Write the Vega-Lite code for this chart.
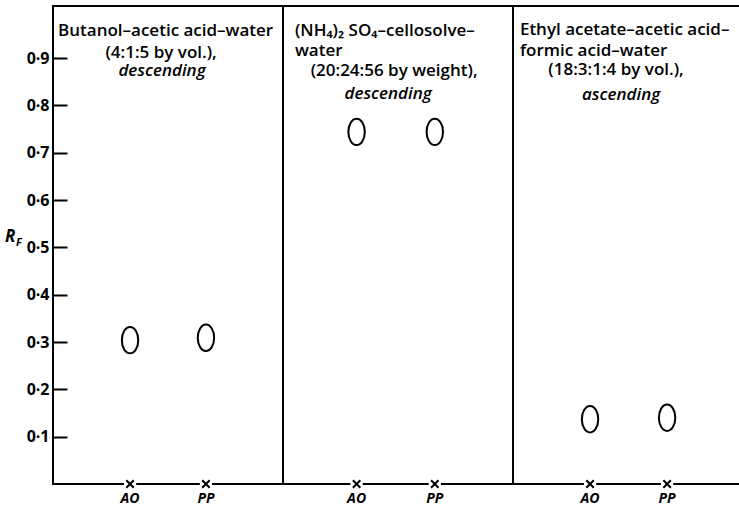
{
  "$schema": "https://vega.github.io/schema/vega-lite/v6.json",
  "width": 690,
  "height": 478,
  "autosize": {"type": "none"},
  "padding": {"left": 53, "top": 6, "right": 0, "bottom": 23},
  "background": "white",
  "config": {
    "view": {"stroke": "black", "strokeWidth": 2},
    "font": "Open Sans",
    "text": {"font": "Open Sans", "color": "black"}
  },
  "datasets": {
    "spots": [
      {"system": "Butanol-acetic acid-water", "sample": "AO", "pos": 0.335, "rf": 0.304},
      {"system": "Butanol-acetic acid-water", "sample": "PP", "pos": 0.665, "rf": 0.309},
      {"system": "(NH4)2SO4-cellosolve-water", "sample": "AO", "pos": 1.32, "rf": 0.744},
      {"system": "(NH4)2SO4-cellosolve-water", "sample": "PP", "pos": 1.66, "rf": 0.744},
      {"system": "Ethyl acetate-acetic acid-formic acid-water", "sample": "AO", "pos": 2.335, "rf": 0.137},
      {"system": "Ethyl acetate-acetic acid-formic acid-water", "sample": "PP", "pos": 2.67, "rf": 0.14}
    ],
    "dividers": [{"edge": 1}, {"edge": 2}],
    "titles_left": [
      {"t": "Butanol–acetic acid–water", "x": 0.022, "y": 0.947},
      {"t": "(NH₄)₂ SO₄–cellosolve–", "x": 1.052, "y": 0.947},
      {"t": "water", "x": 1.052, "y": 0.905},
      {"t": "Ethyl acetate–acetic acid–", "x": 2.03, "y": 0.949},
      {"t": "formic acid–water", "x": 2.03, "y": 0.905}
    ],
    "titles_mid": [
      {"t": "(4:1:5 by vol.),", "x": 0.47, "y": 0.9},
      {"t": "(20:24:56 by weight),", "x": 1.483, "y": 0.862},
      {"t": "(18:3:1:4 by vol.),", "x": 2.448, "y": 0.864}
    ],
    "titles_center": [
      {"t": "descending", "x": 0.474, "y": 0.862},
      {"t": "descending", "x": 1.457, "y": 0.8135},
      {"t": "ascending", "x": 2.47, "y": 0.811}
    ]
  },
  "layer": [
    {
      "data": {"name": "dividers"},
      "mark": {"type": "rule", "color": "black", "strokeWidth": 2},
      "encoding": {
        "x": {"field": "edge", "type": "quantitative", "scale": {"domain": [0, 3], "nice": false, "zero": false}, "axis": null}
      }
    },
    {
      "data": {"name": "spots"},
      "mark": {"type": "point", "shape": "M-0.62,0A0.62,1 0 1,1 0.62,0A0.62,1 0 1,1 -0.62,0Z", "filled": false, "stroke": "black", "strokeWidth": 2, "size": 700, "opacity": 1},
      "encoding": {
        "x": {"field": "pos", "type": "quantitative", "scale": {"domain": [0, 3], "nice": false, "zero": false}, "axis": null},
        "y": {
          "field": "rf", "type": "quantitative",
          "scale": {"domain": [0, 1.01], "nice": false, "zero": true},
          "axis": {
            "values": [0.1, 0.2, 0.3, 0.4, 0.5, 0.6, 0.7, 0.8, 0.9],
            "labelExpr": "replace(format(datum.value, '.1f'), '.', '·')",
            "domain": false, "grid": false,
            "tickSize": -14, "tickWidth": 2, "tickColor": "black",
            "labelPadding": 18, "labelFont": "Open Sans", "labelFontSize": 16, "labelFontWeight": "bold", "labelColor": "black",
            "title": null
          }
        }
      }
    },
    {
      "data": {"name": "spots"},
      "mark": {"type": "point", "shape": "square", "filled": true, "fill": "white", "strokeWidth": 0, "size": 150, "opacity": 1},
      "encoding": {
        "x": {"field": "pos", "type": "quantitative", "scale": {"domain": [0, 3], "nice": false, "zero": false}, "axis": null},
        "y": {"datum": 0, "type": "quantitative"}
      }
    },
    {
      "data": {"name": "spots"},
      "mark": {"type": "point", "shape": "M-1,-1L1,1M-1,1L1,-1", "filled": false, "stroke": "black", "strokeWidth": 2, "size": 56, "opacity": 1},
      "encoding": {
        "x": {"field": "pos", "type": "quantitative", "scale": {"domain": [0, 3], "nice": false, "zero": false}, "axis": null},
        "y": {"datum": 0, "type": "quantitative"}
      }
    },
    {
      "data": {"name": "spots"},
      "mark": {"type": "text", "baseline": "alphabetic", "align": "center", "dy": 19, "fontStyle": "italic", "fontWeight": "bold", "fontSize": 14},
      "encoding": {
        "x": {"field": "pos", "type": "quantitative", "scale": {"domain": [0, 3], "nice": false, "zero": false}, "axis": null},
        "y": {"datum": 0, "type": "quantitative"},
        "text": {"field": "sample"}
      }
    },
    {
      "data": {"name": "titles_left"},
      "mark": {"type": "text", "align": "left", "baseline": "alphabetic", "fontSize": 17, "fontWeight": 600},
      "encoding": {
        "x": {"field": "x", "type": "quantitative", "scale": {"domain": [0, 3], "nice": false, "zero": false}, "axis": null},
        "y": {"field": "y", "type": "quantitative"},
        "text": {"field": "t"}
      }
    },
    {
      "data": {"name": "titles_mid"},
      "mark": {"type": "text", "align": "center", "baseline": "alphabetic", "fontSize": 17, "fontWeight": 600},
      "encoding": {
        "x": {"field": "x", "type": "quantitative", "scale": {"domain": [0, 3], "nice": false, "zero": false}, "axis": null},
        "y": {"field": "y", "type": "quantitative"},
        "text": {"field": "t"}
      }
    },
    {
      "data": {"name": "titles_center"},
      "mark": {"type": "text", "align": "center", "baseline": "alphabetic", "fontSize": 17, "fontWeight": 600, "fontStyle": "italic"},
      "encoding": {
        "x": {"field": "x", "type": "quantitative", "scale": {"domain": [0, 3], "nice": false, "zero": false}, "axis": null},
        "y": {"field": "y", "type": "quantitative"},
        "text": {"field": "t"}
      }
    },
    {
      "data": {"values": [{"label": "R"}]},
      "mark": {"type": "text", "align": "left", "baseline": "alphabetic", "dx": -48, "fontSize": 17, "fontWeight": "bold", "fontStyle": "italic"},
      "encoding": {
        "x": {"datum": 0, "type": "quantitative"},
        "y": {"datum": 0.511, "type": "quantitative"},
        "text": {"field": "label"}
      }
    },
    {
      "data": {"values": [{"label": "F"}]},
      "mark": {"type": "text", "align": "left", "baseline": "alphabetic", "dx": -37, "fontSize": 11, "fontWeight": "bold", "fontStyle": "italic"},
      "encoding": {
        "x": {"datum": 0, "type": "quantitative"},
        "y": {"datum": 0.503, "type": "quantitative"},
        "text": {"field": "label"}
      }
    }
  ]
}
